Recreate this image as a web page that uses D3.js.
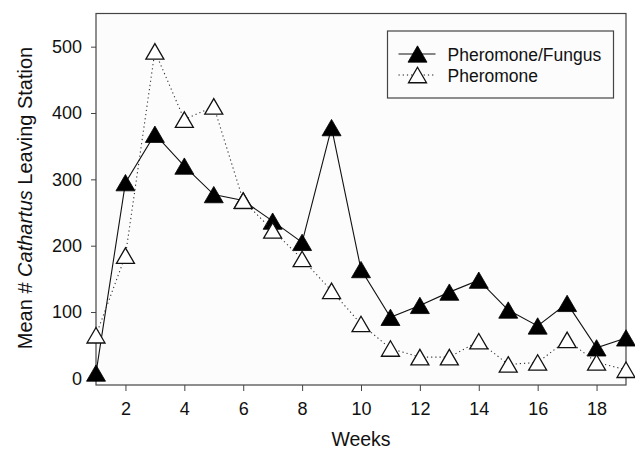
<!DOCTYPE html>
<html>
<head>
<meta charset="utf-8">
<script src="https://cdn.jsdelivr.net/npm/d3@7"></script>
<style>
  body { margin: 0; background: #fff; }
  text { font-family: "Liberation Sans", Arial, sans-serif; fill: #111; }
</style>
</head>
<body>
<div id="chart"></div>
<script>
// data
var weeks = [1, 2, 3, 4, 5, 6, 7, 8, 9, 10, 11, 12, 13, 14, 15, 16, 17, 18, 19];
var pheromoneFungus = [8, 295, 368, 320, 277, 268, 237, 205, 378, 164, 92, 110, 130, 148, 103, 79, 113, 46, 61];
var pheromone = [65, 185, 493, 390, 410, 268, 223, 180, 132, 82, 45, 32, 32, 56, 21, 24, 58, 24, 13];
var xTicks = [2, 4, 6, 8, 10, 12, 14, 16, 18];
var yTicks = [0, 100, 200, 300, 400, 500];

var margin = { top: 13.5, right: 9, bottom: 66, left: 96 };
var width = 635 - margin.left - margin.right;
var height = 451 - margin.top - margin.bottom;

var svg = d3.select("#chart").append("svg")
    .attr("width", 635)
    .attr("height", 451)
    .append("g")
    .attr("transform", "translate(" + margin.left + "," + margin.top + ")");

var x = d3.scaleLinear().domain([1, 19]).range([0, width]);
var y = d3.scaleLinear().domain([-10, 550]).range([height, 0]);

// plot area
svg.append("rect")
    .attr("width", width)
    .attr("height", height)
    .attr("fill", "#fcfcfc")
    .attr("stroke", "#444")
    .attr("stroke-width", 1.2);

// axes
var xAxis = svg.append("g")
    .attr("transform", "translate(0," + height + ")")
    .call(d3.axisBottom(x).tickValues(xTicks).tickSize(6).tickPadding(11));
var yAxis = svg.append("g")
    .call(d3.axisLeft(y).tickValues(yTicks).tickSize(5).tickPadding(9));

[xAxis, yAxis].forEach(function(a){
    a.select(".domain").remove();
    a.selectAll("line").attr("stroke", "#444");
    a.selectAll("text")
        .style("font-family", "'Liberation Sans', Arial, sans-serif")
        .style("font-size", "18px")
        .attr("fill", "#111");
});

// axis titles
svg.append("text")
    .attr("x", width / 2)
    .attr("y", 446 - margin.top)
    .attr("text-anchor", "middle")
    .style("font-size", "19.5px")
    .text("Weeks");

var yTitle = svg.append("text")
    .attr("transform", "translate(" + (32 - margin.left) + "," + (198 - margin.top) + ") rotate(-90)")
    .attr("text-anchor", "middle")
    .style("font-size", "20px");
yTitle.append("tspan").text("Mean # ");
yTitle.append("tspan").style("font-style", "italic").text("Cathartus");
yTitle.append("tspan").text(" Leaving Station");

// triangle centred on its bounding box
function tri(w) {
    var h = w * 0.86;
    return "M0," + (-h / 2) + "L" + (w / 2) + "," + (h / 2) + "L" + (-w / 2) + "," + (h / 2) + "Z";
}

var line = d3.line()
    .x(function(d){ return x(d.week); })
    .y(function(d){ return y(d.value); });

function series(values) {
    return weeks.map(function(w, i){ return { week: w, value: values[i] }; });
}

var fungusData = series(pheromoneFungus);
var pherData = series(pheromone);

// Pheromone/Fungus: solid line, filled triangles
svg.append("path")
    .datum(fungusData)
    .attr("d", line)
    .attr("fill", "none")
    .attr("stroke", "#111")
    .attr("stroke-width", 1.1);

svg.selectAll(".fungus")
    .data(fungusData)
    .enter().append("path")
    .attr("class", "fungus")
    .attr("transform", function(d){ return "translate(" + x(d.week) + "," + y(d.value) + ")"; })
    .attr("d", tri(19))
    .attr("fill", "#000")
    .attr("stroke", "#000")
    .attr("stroke-width", 0.8);

// Pheromone: dotted line, open triangles
svg.append("path")
    .datum(pherData)
    .attr("d", line)
    .attr("fill", "none")
    .attr("stroke", "#333")
    .attr("stroke-width", 1.1)
    .attr("stroke-dasharray", "1.2,3");

svg.selectAll(".pher")
    .data(pherData)
    .enter().append("path")
    .attr("class", "pher")
    .attr("transform", function(d){ return "translate(" + x(d.week) + "," + y(d.value) + ")"; })
    .attr("d", tri(18))
    .attr("fill", "#fff")
    .attr("stroke", "#111")
    .attr("stroke-width", 1.3);

// legend
var legend = svg.append("g")
    .attr("transform", "translate(" + (387.5 - margin.left) + "," + (31 - margin.top) + ")");

legend.append("rect")
    .attr("width", 226)
    .attr("height", 67)
    .attr("fill", "#fcfcfc")
    .attr("stroke", "#444")
    .attr("stroke-width", 1.2);

var items = [
    { name: "Pheromone/Fungus", dash: null, fill: "#000", stroke: "#000", w: 19, sw: 0.8 },
    { name: "Pheromone", dash: "1.2,3", fill: "#fff", stroke: "#111", w: 18, sw: 1.3 }
];

var rows = legend.selectAll(".row")
    .data(items)
    .enter().append("g")
    .attr("transform", function(d, i){ return "translate(0," + (23 + i * 21) + ")"; });

rows.append("line")
    .attr("x1", 11).attr("x2", 48)
    .attr("stroke", "#111")
    .attr("stroke-width", 1.1)
    .attr("stroke-dasharray", function(d){ return d.dash; });

rows.append("path")
    .attr("transform", "translate(30,0)")
    .attr("d", function(d){ return tri(d.w); })
    .attr("fill", function(d){ return d.fill; })
    .attr("stroke", function(d){ return d.stroke; })
    .attr("stroke-width", function(d){ return d.sw; });

rows.append("text")
    .attr("x", 60)
    .attr("y", 6.5)
    .style("font-size", "17.5px")
    .text(function(d){ return d.name; });
</script>
</body>
</html>
